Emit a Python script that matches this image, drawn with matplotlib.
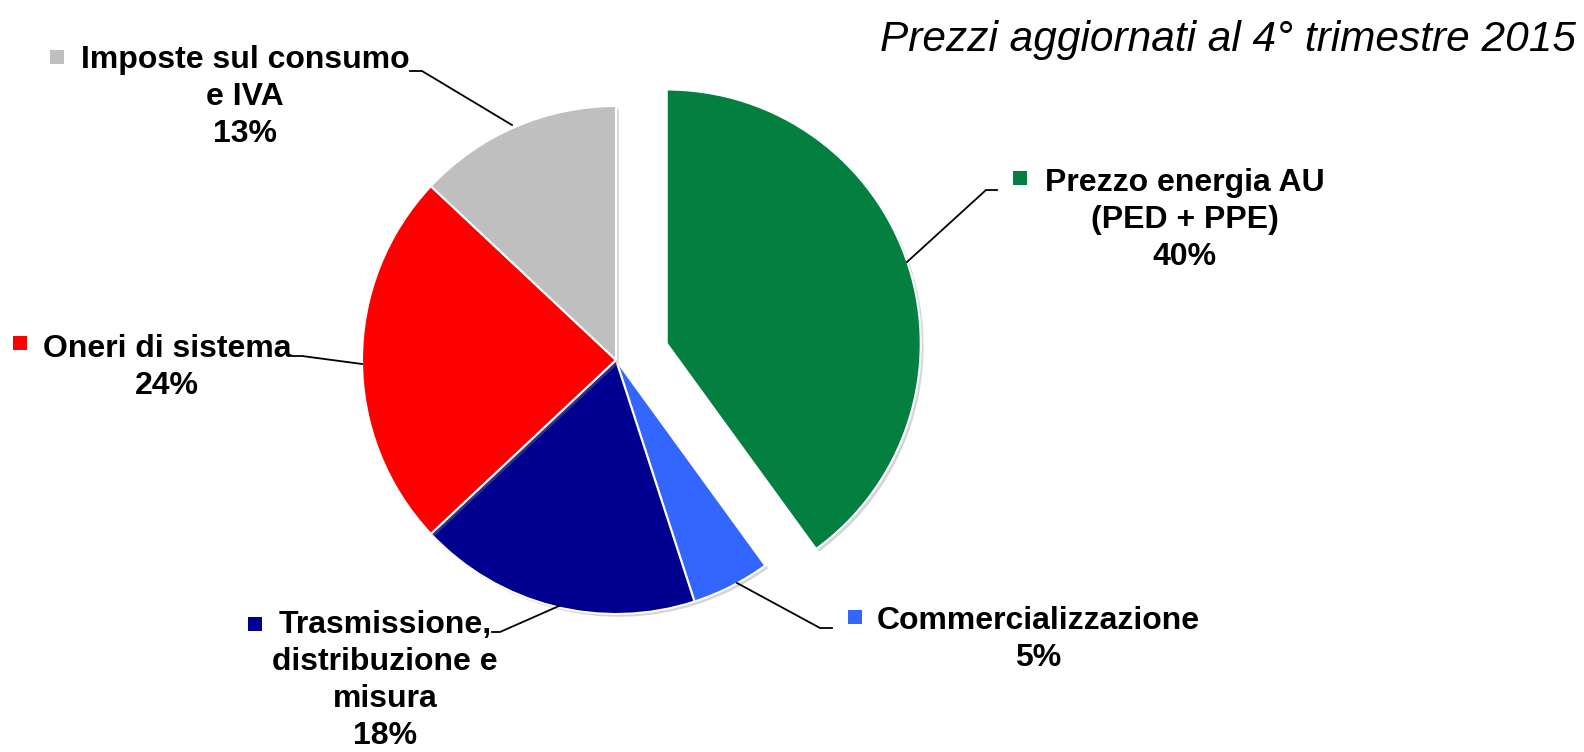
import matplotlib
matplotlib.use("Agg")
from matplotlib import pyplot as plt
from matplotlib import patheffects as pe

W, H = 1584, 752
Y = lambda y: H - y   # pixel row -> data y

# data, clockwise from 12 o'clock
labels = ["Prezzo energia AU\n(PED + PPE)", "Commercializzazione",
          "Trasmissione,\ndistribuzione e\nmisura", "Oneri di sistema",
          "Imposte sul consumo\ne IVA"]
shares = [40, 5, 18, 24, 13]
colors = ["#037F40", "#3366FF", "#000090", "#FF0000", "#BFBFBF"]
explode = [0.21, 0, 0, 0, 0]   # fraction of radius
title = "Prezzi aggiornati al 4° trimestre 2015"

R = 254
# label layout (pixels): text centre x, first line centre y, marker, leader line
label_pos = [(1185, 180), (1038, 618), (385, 622), (167, 346), (245, 57)]
marker_pos = [(1020, 178), (855, 617), (255, 624), (20, 343), (57, 57)]
leaders = [
    [(907, 262), (986, 190), (997, 190)],
    [(737, 583), (820, 628), (832, 628)],
    [(559, 606), (500, 632), (492, 632)],
    [(362, 364), (302, 356), (292, 356)],
    [(512, 125), (422, 71), (410, 71)],
]

fig = plt.figure(figsize=(W / 100, H / 100), dpi=100)
ax = fig.add_axes([0, 0, 1, 1])

wedges, _ = ax.pie(shares, colors=colors, explode=[e * R for e in explode],
                   startangle=90, counterclock=False, radius=R,
                   center=(616, Y(360)),
                   wedgeprops=dict(edgecolor="white", linewidth=1.5))
for w in wedges:
    w.set_path_effects([pe.SimplePatchShadow(offset=(2, -2), shadow_rgbFace="#888888", alpha=0.35),
                        pe.Normal()])

ax.set_xlim(0, W)
ax.set_ylim(0, H)
ax.set_aspect("equal")
ax.axis("off")

font = "Liberation Sans"
for lab, share, (tx, ty), (mx, my), col, pts in zip(labels, shares, label_pos,
                                                    marker_pos, colors, leaders):
    ax.text(tx, Y(ty - 12), f"{lab}\n{share}%", ha="center", va="top",
            multialignment="center", fontsize=23, fontweight="bold",
            family=font, linespacing=1.31)
    ax.scatter([mx], [Y(my)], marker="s", s=95, color=col, edgecolors="none")
    ax.plot([p[0] for p in pts], [Y(p[1]) for p in pts], color="black", lw=1.3)

ax.text(1576, Y(40), title, ha="right", va="center", fontsize=30.5,
        style="italic", family=font)

fig.savefig("out.png", dpi=100)
